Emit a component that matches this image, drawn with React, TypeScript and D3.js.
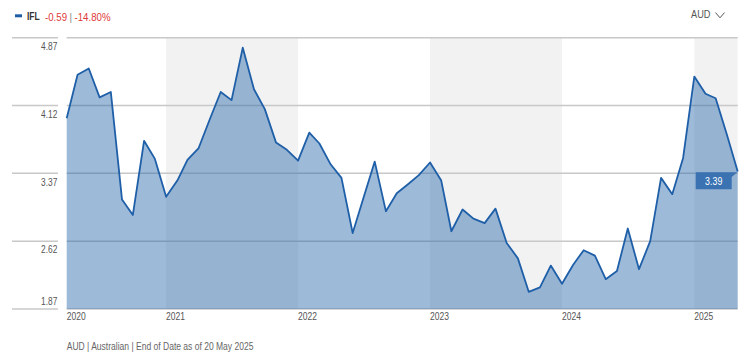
import React from 'react'
import * as d3 from 'd3'

// monthly closing prices, Apr 2020 .. May 2025
const startYear = 2020
const startMonth = 3
const prices = [
  3.98, 4.46, 4.53, 4.21, 4.27, 3.08, 2.91, 3.73, 3.53, 3.11, 3.29, 3.52,
  3.65, 3.96, 4.27, 4.18, 4.76, 4.30, 4.08, 3.71, 3.63, 3.51, 3.82, 3.70,
  3.47, 3.32, 2.71, 3.10, 3.50, 2.95, 3.15, 3.25, 3.35, 3.49, 3.29, 2.73,
  2.97, 2.87, 2.82, 2.98, 2.60, 2.43, 2.06, 2.11, 2.35, 2.15, 2.36, 2.52,
  2.46, 2.20, 2.29, 2.76, 2.31, 2.62, 3.32, 3.14, 3.54, 4.44, 4.25, 4.20,
  3.80, 3.39,
]
const yTicks = [1.87, 2.62, 3.37, 4.12, 4.87]
const years = [2020, 2021, 2022, 2023, 2024, 2025]
const shadedYears = [2021, 2023, 2025]

const ticker = 'IFL'
const change = '-0.59'
const changePct = '-14.80%'
const currency = 'AUD'
const footer = 'AUD | Australian | End of Date as of 20 May 2025'

const FONT = "'Liberation Sans', Arial, sans-serif"
const LINE = '#1e5fa8'
const SQUEEZE = 0.82 // fake a condensed face

// text squeezed horizontally around its anchor point
function Narrow({ x, y, anchor = 'start', children, ...rest }: any) {
  return (
    <text transform={`translate(${x},${y}) scale(${SQUEEZE},1)`} textAnchor={anchor} {...rest}>
      {children}
    </text>
  )
}

export default function App() {
  const width = 750
  const height = 360
  const left = 66.7
  const right = 737.7
  const top = 37.7
  const bottom = 309

  const data = prices.map((v, i) => ({ date: new Date(startYear, startMonth + i, 1), value: v }))
  const first = data[0].date
  const last = data[data.length - 1]

  const x = d3.scaleTime().domain([first, last.date]).range([left, right])
  const y = d3.scaleLinear().domain([1.87, 4.87]).range([bottom, top])

  const area = d3.area<any>().x(d => x(d.date)).y0(bottom).y1(d => y(d.value))
  const line = d3.line<any>().x(d => x(d.date)).y(d => y(d.value))

  const lx = x(last.date)
  const ly = y(last.value)

  return (
    <div style={{ position: 'absolute', left: 0, top: 0 }}>
      <svg width={width} height={height} style={{ display: 'block', fontFamily: FONT }}>
        <rect width={width} height={height} fill="#fff" />

        {/* legend */}
        <line x1={15} x2={22} y1={15.8} y2={15.8} stroke={LINE} strokeWidth={3} />
        <Narrow x={27} y={20} fontSize={10.4} fontWeight="bold" fill="#333">{ticker}</Narrow>
        <Narrow x={45} y={20.6} fontSize={11.8} fill="#e0393a">
          {change}
          <tspan fill="#888" dx={3}>|</tspan>
          <tspan dx={3}>{changePct}</tspan>
        </Narrow>
        <Narrow x={710.5} y={18.3} fontSize={11.2} fill="#555" anchor="end">{currency}</Narrow>
        <path d="M715.5,12.6 L720,17.8 L724.5,12.6" fill="none" stroke="#555" strokeWidth={1} />

        {/* alternating year shading */}
        {shadedYears.map(yr => {
          const x0 = Math.max(left, x(new Date(yr, 0, 1)))
          const x1 = Math.min(right, x(new Date(yr + 1, 0, 1)))
          return <rect key={yr} x={x0} y={top} width={x1 - x0} height={bottom - top} fill="#f2f2f2" />
        })}

        {/* grid */}
        {yTicks.map(t => (
          <g key={t}>
            <line x1={12} x2={58} y1={y(t)} y2={y(t)} stroke="#c8c8c8" strokeWidth={1.5} />
            <line x1={left} x2={right} y1={y(t)} y2={y(t)} stroke="#c8c8c8" strokeWidth={1.5} />
          </g>
        ))}

        <path d={area(data) || ''} fill={LINE} fillOpacity={0.43} />
        <path d={line(data) || ''} fill="none" stroke={LINE} strokeWidth={1.8} strokeLinejoin="round" />

        {/* y labels */}
        {yTicks.map((t, i) => (
          <Narrow key={t} x={57.3} y={i === 0 ? y(t) - 3.8 : y(t) + 12.3} fontSize={10.2} fill="#555" anchor="end">
            {t.toFixed(2)}
          </Narrow>
        ))}

        {/* x labels */}
        {years.map(yr => (
          <Narrow key={yr} x={Math.max(left, x(new Date(yr, 0, 1)))} y={320} fontSize={10.4} fill="#555">
            {yr}
          </Narrow>
        ))}

        {/* last value tag */}
        <path
          d={`M${lx - 42},${ly + 0.8} L${lx - 0.5},${ly + 0.8} L${lx - 6},${ly + 5.5} L${lx - 6},${ly + 17.8} L${lx - 42},${ly + 17.8} Z`}
          fill="#3a72b2"
        />
        <Narrow x={lx - 24} y={ly + 13} fontSize={10.8} fill="#fff" anchor="middle">{last.value.toFixed(2)}</Narrow>

        <Narrow x={left} y={350} fontSize={10.4} fill="#666">{footer}</Narrow>
      </svg>
    </div>
  )
}
